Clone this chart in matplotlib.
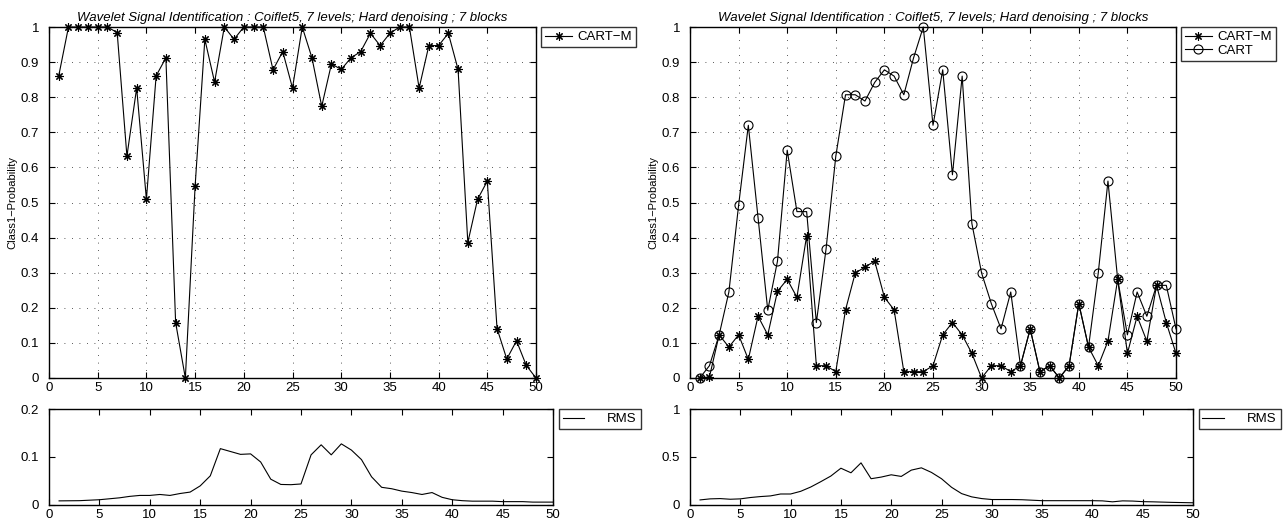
import matplotlib
matplotlib.use('Agg')
import matplotlib.pyplot as plt
from matplotlib.ticker import FuncFormatter
import numpy as np

plt.rcParams['font.family'] = ['Liberation Sans', 'DejaVu Sans']

# data
blocks = np.arange(1, 51)

cartm_left = [0.861, 1.0, 1.0, 1.0, 1.0, 1.0, 0.984, 0.632, 0.826, 0.509,
              0.861, 0.912, 0.158, 0.0, 0.546, 0.965, 0.843, 1.0, 0.965, 1.0,
              1.0, 1.0, 0.878, 0.930, 0.826, 1.0, 0.912, 0.774, 0.895, 0.879,
              0.912, 0.930, 0.982, 0.947, 0.982, 1.0, 1.0, 0.826, 0.947, 0.947,
              0.982, 0.879, 0.386, 0.509, 0.561, 0.141, 0.054, 0.106, 0.036, 0.0]

cartm_right = [0.0, 0.003, 0.123, 0.088, 0.123, 0.053, 0.176, 0.123, 0.247, 0.281,
               0.230, 0.405, 0.035, 0.035, 0.018, 0.194, 0.299, 0.316, 0.333, 0.230,
               0.194, 0.018, 0.018, 0.018, 0.035, 0.123, 0.158, 0.123, 0.070, 0.0,
               0.035, 0.035, 0.018, 0.035, 0.140, 0.018, 0.035, 0.0, 0.035, 0.212,
               0.088, 0.035, 0.105, 0.281, 0.070, 0.176, 0.105, 0.264, 0.158, 0.070]

cart_right = [0.0, 0.035, 0.123, 0.245, 0.492, 0.720, 0.457, 0.193, 0.333, 0.649,
              0.474, 0.474, 0.158, 0.368, 0.632, 0.807, 0.807, 0.789, 0.842, 0.878,
              0.860, 0.807, 0.912, 1.0, 0.720, 0.878, 0.579, 0.860, 0.440, 0.299,
              0.212, 0.140, 0.245, 0.035, 0.140, 0.018, 0.035, 0.0, 0.035, 0.212,
              0.088, 0.299, 0.561, 0.281, 0.123, 0.245, 0.176, 0.264, 0.264, 0.140]

rms_left = [0.0076, 0.0078, 0.008, 0.009, 0.010, 0.012, 0.014, 0.017, 0.019, 0.019,
            0.021, 0.019, 0.023, 0.026, 0.039, 0.060, 0.117, 0.111, 0.105, 0.106,
            0.089, 0.053, 0.042, 0.0415, 0.043, 0.104, 0.125, 0.104, 0.127, 0.114,
            0.094, 0.058, 0.036, 0.033, 0.028, 0.025, 0.021, 0.025, 0.015, 0.010,
            0.008, 0.007, 0.007, 0.007, 0.006, 0.006, 0.006, 0.005, 0.005, 0.005]

rms_right = [0.048, 0.059, 0.062, 0.055, 0.059, 0.073, 0.083, 0.090, 0.110, 0.110,
             0.138, 0.183, 0.239, 0.298, 0.380, 0.332, 0.436, 0.270, 0.287, 0.311,
             0.294, 0.360, 0.384, 0.336, 0.270, 0.180, 0.114, 0.080, 0.062, 0.052,
             0.052, 0.052, 0.050, 0.045, 0.040, 0.040, 0.040, 0.040, 0.040, 0.040,
             0.038, 0.028, 0.038, 0.036, 0.030, 0.028, 0.025, 0.022, 0.020, 0.018]

title = 'Wavelet Signal Identification : Coiflet5, 7 levels; Hard denoising ; 7 blocks'
ylab = 'Class1\u2212Probability'

fmt = FuncFormatter(lambda v, p: '%g' % round(v, 3))
star = (8, 2, 0)

fig = plt.figure(figsize=(12.83, 5.29), dpi=100)
W, H = 1283.0, 529.0


def style(ax, grid=True):
    ax.set_xlim(0, 50)
    ax.set_xticks(range(0, 51, 5))
    ax.tick_params(direction='in', top=True, right=True, length=4,
                   labelsize=9.5, width=0.8)
    ax.tick_params(axis='y', pad=7)
    ax.tick_params(axis='x', pad=3)
    ax.yaxis.set_major_formatter(fmt)
    for s in ax.spines.values():
        s.set_linewidth(1.0)
    if grid:
        ax.grid(True, color='#222222', linestyle=(0, (1, 8)), linewidth=0.6)


def legend(ax, handlelength=2.0, handletextpad=0.4):
    leg = ax.legend(loc='upper left', bbox_to_anchor=(1.011, 1.0), fontsize=9.5,
                    frameon=True, fancybox=False, borderaxespad=0,
                    handlelength=handlelength, handletextpad=handletextpad,
                    borderpad=0.3, labelspacing=0.1)
    leg.get_frame().set_edgecolor('black')
    leg.get_frame().set_linewidth(1.0)


# top left
ax1 = fig.add_axes([49 / W, 1 - 378 / H, 487 / W, 351 / H])
ax1.plot(blocks, cartm_left, color='black', linewidth=0.8, marker=star,
         markersize=6, markeredgewidth=0.8, clip_on=False, label='CART\u2212M')
ax1.set_ylim(0, 1)
ax1.set_yticks(np.arange(0, 1.01, 0.1))
style(ax1)
ax1.set_title(title, fontsize=9.5, style='italic', pad=4)
ax1.set_ylabel(ylab, fontsize=8)
ax1.yaxis.set_label_coords(-0.065, 0.5)
legend(ax1)

# top right
ax2 = fig.add_axes([690 / W, 1 - 378 / H, 486 / W, 351 / H])
ax2.plot(blocks, cartm_right, color='black', linewidth=0.8, marker=star,
         markersize=6, markeredgewidth=0.8, clip_on=False, label='CART\u2212M')
ax2.plot(blocks, cart_right, color='black', linewidth=0.8, marker='o',
         markersize=6.5, markerfacecolor='none', markeredgewidth=0.8,
         clip_on=False, label='CART')
ax2.set_ylim(0, 1)
ax2.set_yticks(np.arange(0, 1.01, 0.1))
style(ax2)
ax2.set_title(title, fontsize=9.5, style='italic', pad=4)
ax2.set_ylabel(ylab, fontsize=8)
ax2.yaxis.set_label_coords(-0.065, 0.5)
legend(ax2)

# bottom left
ax3 = fig.add_axes([49 / W, 1 - 504.5 / H, 504 / W, 95.5 / H])
ax3.plot(blocks, rms_left, color='black', linewidth=0.8, label='RMS')
ax3.set_ylim(0, 0.2)
ax3.set_yticks([0, 0.1, 0.2])
style(ax3, grid=False)
legend(ax3, handlelength=1.6, handletextpad=1.8)

# bottom right
ax4 = fig.add_axes([690 / W, 1 - 504.5 / H, 503 / W, 95.5 / H])
ax4.plot(blocks, rms_right, color='black', linewidth=0.8, label='RMS')
ax4.set_ylim(0, 1)
ax4.set_yticks([0, 0.5, 1])
style(ax4, grid=False)
legend(ax4, handlelength=1.6, handletextpad=1.8)

fig.savefig('out.png', dpi=100)
